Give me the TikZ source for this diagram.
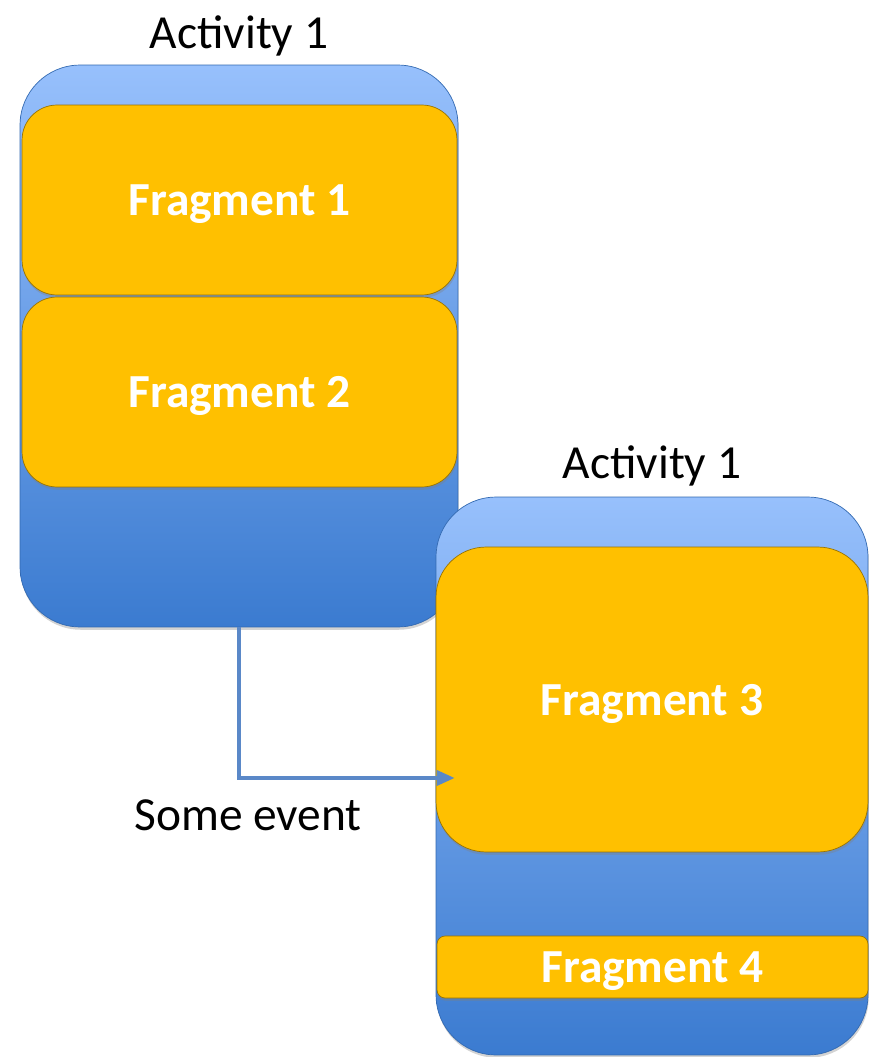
\documentclass[tikz,border=0pt]{standalone}
\usepackage{fontspec}
\setmainfont{Carlito}
\usetikzlibrary{positioning,shadows,arrows.meta}

\definecolor{actblue}{HTML}{3B7BD0}
\definecolor{actlight}{HTML}{97C0FC}
\definecolor{fragyellow}{HTML}{FFC000}
\definecolor{flowblue}{HTML}{5A88C8}

\begin{document}
\begin{tikzpicture}
[x=0.02cm,y=-0.02cm,%
  activity/.style={rectangle,rounded corners=1.2cm,top color=actlight,bottom color=actblue,%
    draw=actblue!85!black,line width=0.4pt,%
    drop shadow={shadow xshift=0.4pt,shadow yshift=-1.6pt,opacity=0.35}},%
  fragment/.style={rectangle,fill=fragyellow,draw=fragyellow!60!black,line width=0.4pt,%
    text=white,text depth=0pt,font=\fontsize{27}{32}\selectfont\bfseries,%
    drop shadow={shadow xshift=0.4pt,shadow yshift=-1.6pt,opacity=0.35}},%
  caption/.style={font=\fontsize{27}{32}\selectfont,text=black,inner sep=0pt},%
  flow/.style={-{Triangle[length=0.36cm,width=0.3cm]},draw=flowblue,line width=2.2pt}]
\useasboundingbox (0,0) rectangle (870,1057);
% left activity
\node[activity,minimum width=8.76cm,minimum height=11.24cm] (act1) at (239,346) {};
\node[fragment,rounded corners=0.7cm,minimum width=8.7cm,minimum height=3.8cm] (frag1) at (239.5,200) {Fragment 1};
\node[fragment,rounded corners=0.7cm,minimum width=8.7cm,minimum height=3.8cm] (frag2) at (239.5,392) {Fragment 2};
\node[caption,above=0.17cm of act1] (title1) {Activity 1};
% right activity
\node[activity,minimum width=8.64cm,minimum height=11.16cm] (act2) at (652,776) {};
\node[fragment,rounded corners=1cm,minimum width=8.64cm,minimum height=6.1cm] (frag3) at (652,699.5) {Fragment 3};
\node[fragment,rounded corners=0.16cm,minimum width=8.62cm,minimum height=1.24cm] (frag4) at (652.5,967) {Fragment 4};
\node[caption,above=0.2cm of act2] (title2) {Activity 1};
% event
\coordinate (hit) at ([xshift=0.38cm,yshift=-1.57cm]frag3.west);
\draw[flow] (act1.south) |- (hit);
\node[caption] (evt) at (248,815) {Some event};
\end{tikzpicture}
\end{document}
